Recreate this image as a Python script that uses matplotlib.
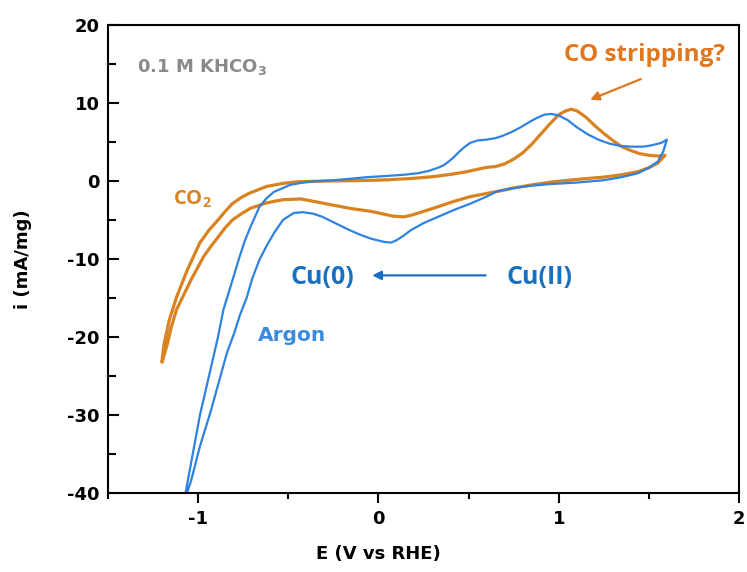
import numpy as np
import matplotlib
matplotlib.use("Agg")
import matplotlib.pyplot as plt
from matplotlib.ticker import MultipleLocator

# CO2 saturated CV - anodic branch (from -1.2 V up to 1.6 V)
co2_up_x = [-1.20, -1.19, -1.16, -1.12, -1.06, -0.99, -0.94, -0.89, -0.85, -0.81, -0.76, -0.71,
            -0.62, -0.53, -0.45, -0.30, -0.10, 0.05, 0.20, 0.30, 0.40, 0.48, 0.55, 0.60, 0.65,
            0.70, 0.75, 0.80, 0.85, 0.90, 0.95, 1.00, 1.04, 1.07, 1.10, 1.15, 1.20, 1.25, 1.30,
            1.35, 1.40, 1.45, 1.50, 1.55, 1.59]
co2_up_y = [-23.0, -21.0, -17.8, -14.9, -11.4, -7.9, -6.3, -5.0, -3.9, -2.9, -2.1, -1.5,
            -0.7, -0.3, -0.1, 0.0, 0.05, 0.15, 0.35, 0.55, 0.85, 1.15, 1.5, 1.75, 1.85,
            2.2, 2.8, 3.6, 4.7, 6.0, 7.3, 8.5, 9.0, 9.2, 9.0, 8.2, 7.1, 6.1, 5.2,
            4.4, 3.9, 3.5, 3.3, 3.2, 3.3]
# CO2 - cathodic branch (from 1.6 V back to -1.2 V)
co2_down_x = [1.59, 1.57, 1.55, 1.50, 1.44, 1.35, 1.25, 1.10, 0.97, 0.85, 0.75, 0.69, 0.60,
              0.51, 0.42, 0.33, 0.25, 0.18, 0.14, 0.08, 0.02, -0.04, -0.16, -0.25, -0.34,
              -0.43, -0.53, -0.62, -0.71, -0.76, -0.81, -0.85, -0.89, -0.93, -0.97, -1.04,
              -1.08, -1.12, -1.15, -1.17, -1.20]
co2_down_y = [3.3, 2.8, 2.3, 1.7, 1.2, 0.8, 0.5, 0.2, -0.1, -0.5, -0.9, -1.2, -1.6,
              -2.0, -2.6, -3.3, -3.9, -4.4, -4.6, -4.5, -4.2, -3.9, -3.5, -3.1, -2.7,
              -2.3, -2.4, -2.8, -3.5, -4.2, -5.0, -6.0, -7.2, -8.4, -9.7, -12.7,
              -14.6, -16.5, -18.8, -20.8, -23.2]

# Argon CV - anodic branch
ar_up_x = [-1.08, -1.07, -1.03, -0.99, -0.94, -0.89, -0.86, -0.82, -0.77, -0.74, -0.71, -0.66,
           -0.62, -0.58, -0.53, -0.49, -0.43, -0.38, -0.25, -0.15, -0.06, 0.05, 0.14, 0.22,
           0.28, 0.33, 0.36, 0.39, 0.42, 0.45, 0.48, 0.51, 0.55, 0.60, 0.65, 0.69, 0.74,
           0.79, 0.84, 0.88, 0.92, 0.96, 1.00, 1.05, 1.10, 1.16, 1.22, 1.28, 1.34, 1.40,
           1.47, 1.52, 1.57, 1.60]
ar_up_y = [-41.0, -40.0, -35.0, -30.0, -25.0, -20.0, -16.5, -13.5, -9.7, -7.6, -5.9, -3.3,
           -2.2, -1.4, -0.9, -0.5, -0.25, -0.1, 0.1, 0.3, 0.5, 0.65, 0.8, 1.0,
           1.3, 1.7, 2.0, 2.5, 3.1, 3.8, 4.4, 4.9, 5.2, 5.3, 5.5, 5.8, 6.3,
           6.9, 7.6, 8.1, 8.5, 8.6, 8.4, 7.8, 6.9, 6.0, 5.3, 4.8, 4.5, 4.4,
           4.4, 4.6, 4.9, 5.3]
# Argon - cathodic branch
ar_down_x = [1.60, 1.58, 1.55, 1.50, 1.44, 1.35, 1.25, 1.10, 0.95, 0.85, 0.75, 0.66, 0.60,
             0.55, 0.51, 0.42, 0.33, 0.25, 0.18, 0.14, 0.10, 0.07, 0.03, -0.04, -0.10,
             -0.16, -0.24, -0.31, -0.36, -0.42, -0.47, -0.53, -0.58, -0.62, -0.66, -0.70,
             -0.73, -0.77, -0.80, -0.84, -0.87, -0.93, -0.99, -1.04, -1.07]
ar_down_y = [5.3, 3.8, 2.5, 1.7, 1.0, 0.5, 0.1, -0.2, -0.4, -0.6, -0.9, -1.3, -2.0,
             -2.5, -2.9, -3.7, -4.6, -5.4, -6.3, -7.0, -7.6, -7.9, -7.8, -7.4, -6.9,
             -6.3, -5.4, -4.6, -4.2, -4.0, -4.1, -5.0, -6.7, -8.3, -10.1, -12.5,
             -14.9, -17.3, -19.5, -22.0, -24.5, -29.5, -34.0, -38.5, -40.5]

orange = "#D8831F"
blue = "#2F82DF"
text_orange = "#E0761E"
text_blue = "#1A70C0"

plt.rcParams["font.family"] = ["DejaVu Sans"]
plt.rcParams["axes.unicode_minus"] = False
calibri_like = ["Open Sans", "DejaVu Sans"]

fig = plt.figure(figsize=(7.47, 5.72), dpi=100)
ax = fig.add_axes([0.1446, 0.1381, 0.8447, 0.8182])

ax.plot(co2_up_x + co2_down_x, co2_up_y + co2_down_y, color=orange, lw=2.3,
        solid_joinstyle="round")
ax.plot(ar_up_x + ar_down_x, ar_up_y + ar_down_y, color=blue, lw=1.6,
        solid_joinstyle="round")

ax.set_xlim(-1.5, 2)
ax.set_ylim(-40, 20)
ax.xaxis.set_major_locator(MultipleLocator(1))
ax.xaxis.set_minor_locator(MultipleLocator(0.5))
ax.yaxis.set_major_locator(MultipleLocator(10))
ax.yaxis.set_minor_locator(MultipleLocator(5))

for s in ax.spines.values():
    s.set_linewidth(1.5)
ax.tick_params(axis="x", which="major", direction="out", length=7, width=1.5, pad=5)
ax.tick_params(axis="x", which="minor", direction="out", length=4.5, width=1.5)
ax.tick_params(axis="y", which="major", direction="in", length=8, width=1.5, pad=6)
ax.tick_params(axis="y", which="minor", direction="in", length=5.5, width=1.5)
for lab in ax.get_xticklabels() + ax.get_yticklabels():
    lab.set_fontweight("bold")
    lab.set_fontsize(13)

ax.set_xlabel("E (V vs RHE)", fontsize=13, fontweight="bold")
ax.set_ylabel("i (mA/mg)", fontsize=13, fontweight="bold")
ax.xaxis.set_label_coords(0.428, -0.111)
ax.yaxis.set_label_coords(-0.12, 0.5)

ax.text(-1.34, 14.6, "0.1 M KHCO$_\\mathbf{3}$", color="#8A8A8A", fontsize=13,
        fontweight="bold", ha="left", va="center")
ax.text(-1.14, -2.3, "CO$_\\mathregular{2}$", color=orange, fontsize=14.5,
        fontweight="bold", family=calibri_like, ha="left", va="center")
ax.text(1.03, 16.2, "CO stripping?", color=text_orange, fontsize=17.5, fontweight="bold",
        family=calibri_like, ha="left", va="center")
ax.annotate("", xy=(1.16, 10.3), xytext=(1.47, 13.2),
            arrowprops=dict(arrowstyle="-|>", color=text_orange, lw=1.6, mutation_scale=13))
ax.text(-0.49, -12.4, "Cu(0)", color=text_blue, fontsize=18, fontweight="bold",
        family=calibri_like, ha="left", va="center")
ax.text(0.71, -12.4, "Cu(II)", color=text_blue, fontsize=18, fontweight="bold",
        family=calibri_like, ha="left", va="center")
ax.annotate("", xy=(-0.05, -12.1), xytext=(0.61, -12.1),
            arrowprops=dict(arrowstyle="-|>", color=text_blue, lw=1.6, mutation_scale=13))
ax.text(-0.67, -19.8, "Argon", color="#3A8BDD", fontsize=14.5, fontweight="bold",
        ha="left", va="center")

fig.savefig("out.png", dpi=100)
